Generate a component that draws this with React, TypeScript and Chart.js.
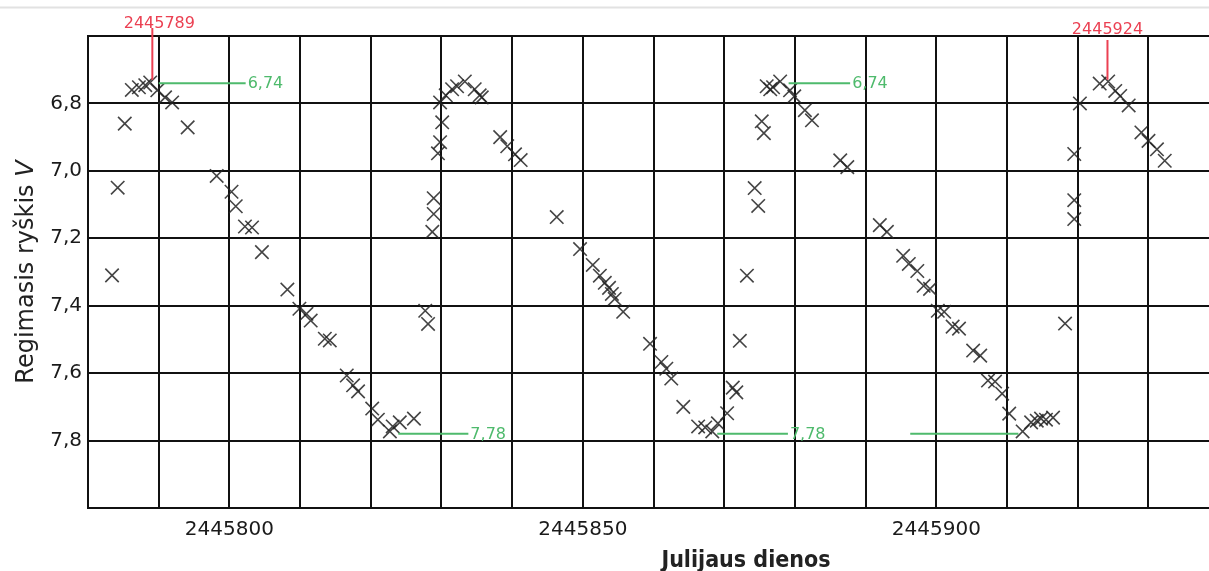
import React, { useEffect, useRef } from 'react';
import { Chart, registerables } from 'chart.js';

Chart.register(...registerables);

// Observation times (Julian days) and apparent magnitudes V
const julianDays = [
  2445783.4, 2445784.2, 2445785.2, 2445786.2, 2445787.2, 2445788.1, 2445788.8, 2445789.8, 2445790.9, 2445791.9,
  2445794.1, 2445798.2, 2445800.3, 2445800.9, 2445802.2, 2445803.2, 2445804.6, 2445808.2, 2445809.9, 2445810.9,
  2445811.5, 2445813.5, 2445814.2, 2445816.6, 2445817.5, 2445818.2, 2445820.2, 2445821.0, 2445822.7, 2445823.1,
  2445824.1, 2445826.1,
  2445827.7, 2445828.1, 2445828.7, 2445828.9, 2445828.9, 2445829.5, 2445829.8, 2445830.1, 2445829.8, 2445830.6,
  2445831.5, 2445832.2, 2445833.3, 2445834.7, 2445835.4, 2445835.7, 2445838.3, 2445839.3, 2445840.4, 2445841.2,
  2445846.3, 2445849.6, 2445851.4, 2445852.4, 2445853.1, 2445853.7, 2445854.1, 2445854.5, 2445855.7, 2445859.5,
  2445861.1, 2445861.8, 2445862.5, 2445864.2, 2445866.3, 2445867.3, 2445868.3, 2445869.1, 2445870.4, 2445871.2,
  2445871.7, 2445872.2, 2445873.2,
  2445874.3, 2445874.8, 2445875.3, 2445875.6, 2445876.0, 2445876.5, 2445876.9, 2445877.9, 2445879.3, 2445879.9,
  2445881.4, 2445882.4, 2445886.4, 2445887.4, 2445892.0, 2445893.0, 2445895.3, 2445896.1, 2445897.3, 2445898.2,
  2445899.1, 2445900.2, 2445901.1, 2445902.3, 2445903.2, 2445905.2, 2445906.2, 2445907.3, 2445908.3, 2445909.3,
  2445910.3, 2445912.2, 2445913.4, 2445914.2, 2445914.8, 2445915.5, 2445916.5,
  2445918.2, 2445919.5, 2445919.5, 2445919.5, 2445920.3, 2445923.1, 2445924.3, 2445925.3, 2445926.0, 2445927.2,
  2445929.0, 2445930.0, 2445931.2, 2445932.3,
];

const magnitudes = [
  7.31, 7.05, 6.86, 6.76, 6.752, 6.746, 6.738, 6.761, 6.782, 6.797,
  6.871, 7.015, 7.062, 7.105, 7.165, 7.168, 7.241, 7.352, 7.409, 7.424,
  7.444, 7.498, 7.503, 7.607, 7.636, 7.654, 7.705, 7.738, 7.773, 7.758,
  7.746, 7.735,
  7.415, 7.454, 7.181, 7.128, 7.081, 6.948, 6.915, 6.856, 6.797, 6.776,
  6.758, 6.749, 6.735, 6.758, 6.776, 6.782, 6.9, 6.927, 6.951, 6.968,
  7.137, 7.232, 7.279, 7.311, 7.332, 7.347, 7.365, 7.38, 7.418, 7.513,
  7.567, 7.587, 7.616, 7.7, 7.758, 7.761, 7.773, 7.749, 7.719, 7.643,
  7.657, 7.504, 7.311,
  7.051, 7.104, 6.853, 6.888, 6.749, 6.758, 6.752, 6.735, 6.761, 6.779,
  6.82, 6.85, 6.969, 6.989, 7.161, 7.181, 7.252, 7.276, 7.297, 7.341,
  7.35, 7.415, 7.418, 7.462, 7.468, 7.533, 7.548, 7.622, 7.625, 7.661,
  7.72, 7.773, 7.746, 7.741, 7.735, 7.738, 7.732,
  7.453, 7.143, 7.087, 6.95, 6.8, 6.741, 6.735, 6.763, 6.778, 6.806,
  6.886, 6.911, 6.936, 6.97,
];

// Axis ticks
const xTickValues = [2445780, 2445790, 2445800, 2445810, 2445820, 2445830, 2445840, 2445850, 2445860, 2445870, 2445880, 2445890, 2445900, 2445910, 2445920, 2445930];
const xLabelledTicks = [2445800, 2445850, 2445900];
const yTickValues = [6.6, 6.8, 7.0, 7.2, 7.4, 7.6, 7.8, 8.0];
const yLabelledTicks = ['6,8', '7,0', '7,2', '7,4', '7,6', '7,8'];

// Maxima markers (red)
const maximaDays = [2445789.1, 2445924.2];
const maximaLabels = ['2445789', '2445924'];
const maximaMag = [6.73, 6.73];

// Level markers (green)
const levelMags = [6.74, 6.74, 7.78, 7.78, 7.78];
const levelFrom = [2445790, 2445879.1, 2445823.9, 2445869, 2445896.3];
const levelTo = [2445802.3, 2445887.8, 2445833.8, 2445879, 2445911.6];
const levelLabels = ['6,74', '6,74', '7,78', '7,78', ''];

const xTitle = 'Julijaus dienos';
const yTitleMain = 'Regimasis ryškis ';
const yTitleItalic = 'V';

const RED = 'rgb(235,64,82)';
const GREEN = 'rgb(78,186,108)';

const annotationPlugin = {
  id: 'lcAnnotations',
  beforeDraw(chart: any) {
    const { ctx, width } = chart;
    ctx.save();
    ctx.fillStyle = '#ffffff';
    ctx.fillRect(0, 0, chart.width, chart.height);
    ctx.strokeStyle = '#e2e2e2';
    ctx.lineWidth = 2;
    ctx.beginPath();
    ctx.moveTo(0, 7.5);
    ctx.lineTo(width, 7.5);
    ctx.stroke();
    ctx.restore();
  },
  afterDraw(chart: any) {
    const { ctx } = chart;
    const x = chart.scales.x;
    const y = chart.scales.y;
    ctx.save();

    // green level lines
    ctx.strokeStyle = GREEN;
    ctx.fillStyle = GREEN;
    ctx.lineWidth = 2;
    ctx.font = '16px "DejaVu Sans"';
    ctx.textBaseline = 'middle';
    ctx.textAlign = 'left';
    levelMags.forEach((m, i) => {
      const py = y.getPixelForValue(m);
      const x0 = x.getPixelForValue(levelFrom[i]);
      const x1 = x.getPixelForValue(levelTo[i]);
      ctx.beginPath();
      ctx.moveTo(x0, py);
      ctx.lineTo(x1, py);
      ctx.stroke();
      if (levelLabels[i]) ctx.fillText(levelLabels[i], x1 + 2, py + 1);
    });

    // red maxima markers
    const lineTops = [28, 40];
    const textBase = [28, 34];
    const textDx = [7, 0];
    ctx.strokeStyle = RED;
    ctx.fillStyle = RED;
    ctx.lineWidth = 2;
    ctx.textAlign = 'center';
    ctx.textBaseline = 'alphabetic';
    maximaDays.forEach((d, i) => {
      const px = x.getPixelForValue(d);
      const py = y.getPixelForValue(maximaMag[i]);
      ctx.beginPath();
      ctx.moveTo(px, lineTops[i]);
      ctx.lineTo(px, py);
      ctx.stroke();
      ctx.fillText(maximaLabels[i], px + textDx[i], textBase[i]);
    });

    // x title
    ctx.fillStyle = '#222';
    ctx.font = 'bold 23px "DejaVu Sans Condensed", "DejaVu Sans"';
    ctx.textAlign = 'center';
    ctx.textBaseline = 'alphabetic';
    ctx.fillText(xTitle, 746, 567);

    // y title (rotated, with italic V)
    ctx.translate(33, 272);
    ctx.rotate(-Math.PI / 2);
    ctx.textAlign = 'left';
    const fMain = '24px "DejaVu Sans"';
    const fIt = 'italic 24px "DejaVu Sans"';
    ctx.font = fMain;
    const w1 = ctx.measureText(yTitleMain).width;
    ctx.font = fIt;
    const w2 = ctx.measureText(yTitleItalic).width;
    const start = -(w1 + w2) / 2;
    ctx.font = fMain;
    ctx.fillText(yTitleMain, start, 0);
    ctx.font = fIt;
    ctx.fillText(yTitleItalic, start + w1, 0);

    ctx.restore();
  },
};

export default function App() {
  const canvasRef = useRef<HTMLCanvasElement | null>(null);

  useEffect(() => {
    if (!canvasRef.current) return;
    const points = julianDays.map((d, i) => ({ x: d, y: magnitudes[i] }));
    const chart = new Chart(canvasRef.current, {
      type: 'scatter',
      data: {
        datasets: [
          {
            data: points,
            pointStyle: 'crossRot',
            pointRadius: 9.5,
            pointHoverRadius: 9.5,
            borderColor: 'rgba(35,35,35,0.85)',
            backgroundColor: 'rgba(0,0,0,0)',
            borderWidth: 1.6,
            showLine: false,
          },
        ],
      },
      options: {
        responsive: false,
        animation: false,
        devicePixelRatio: 1,
        layout: { autoPadding: false, padding: { top: 36, left: 0, right: 0, bottom: 0 } },
        plugins: {
          legend: { display: false },
          tooltip: { enabled: false },
          title: { display: false },
        },
        scales: {
          x: {
            type: 'linear',
            min: 2445780,
            max: 2445938.56,
            afterBuildTicks: (scale: any) => {
              scale.ticks = xTickValues.map((v) => ({ value: v }));
            },
            afterFit: (scale: any) => {
              scale.height = 63;
              scale.paddingLeft = 0;
              scale.paddingRight = 0;
            },
            ticks: {
              autoSkip: false,
              maxRotation: 0,
              padding: 10,
              color: '#1a1a1a',
              font: { family: '"DejaVu Sans"', size: 20 },
              callback: (v: any) => (xLabelledTicks.includes(Number(v)) ? String(v) : ''),
            },
            grid: { color: '#111', lineWidth: 2, drawTicks: false },
            border: { color: '#111', width: 2 },
          },
          y: {
            type: 'linear',
            reverse: true,
            min: 6.6,
            max: 8.0,
            afterBuildTicks: (scale: any) => {
              scale.ticks = yTickValues.map((v) => ({ value: v }));
            },
            afterFit: (scale: any) => {
              scale.width = 88;
              scale.paddingTop = 0;
              scale.paddingBottom = 0;
            },
            ticks: {
              autoSkip: false,
              padding: 6,
              color: '#1a1a1a',
              font: { family: '"DejaVu Sans"', size: 20 },
              callback: (v: any) => {
                const s = Number(v).toFixed(1).replace('.', ',');
                return yLabelledTicks.includes(s) ? s : '';
              },
            },
            grid: { color: '#111', lineWidth: 2, drawTicks: false },
            border: { color: '#111', width: 2 },
          },
        },
      },
      plugins: [annotationPlugin],
    });
    return () => chart.destroy();
  }, []);

  return (
    <canvas
      ref={canvasRef}
      width={1209}
      height={571}
      style={{ position: 'fixed', left: 0, top: 0, display: 'block' }}
    />
  );
}
